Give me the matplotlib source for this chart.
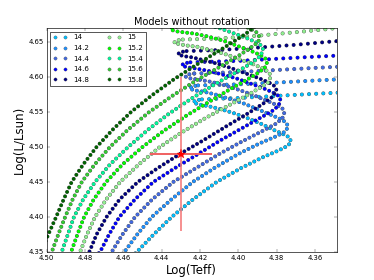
import matplotlib
matplotlib.use('Agg')
import matplotlib.pyplot as plt
from matplotlib.lines import Line2D

plt.style.use('classic')
plt.rcParams['figure.facecolor'] = 'white'
plt.rcParams['savefig.facecolor'] = 'white'
plt.rcParams['lines.scale_dashes'] = False

masses = ['14', '14.2', '14.4', '14.6', '14.8', '15', '15.2', '15.4', '15.6', '15.8']
colors = ['deepskyblue', 'dodgerblue', 'royalblue', 'blue', 'navy',
          'lightgreen', 'lime', 'mediumspringgreen', 'limegreen', 'darkgreen']

# main sequence + hook (dense models), then the gap crossing (sparse models)
teff_14 = [4.465, 4.453, 4.4442, 4.4348, 4.4237, 4.4113, 4.3985, 4.3875, 4.379, 4.374, 4.3725,
           4.3735, 4.377, 4.382, 4.388, 4.395, 4.402, 4.409, 4.416, 4.421, 4.4235, 4.4225, 4.419]
lum_14 = [4.32, 4.35, 4.375, 4.40, 4.425, 4.45, 4.47, 4.485, 4.495, 4.502, 4.508,
          4.514, 4.519, 4.525, 4.533, 4.541, 4.548, 4.554, 4.5585, 4.561, 4.5635, 4.5665, 4.568]
gap_teff_14 = [4.419, 4.40, 4.38, 4.36, 4.345]
gap_lum_14 = [4.568, 4.570, 4.573, 4.576, 4.578]

teff_142 = [4.472, 4.4595, 4.4528, 4.4452, 4.435, 4.4238, 4.4125, 4.400, 4.389, 4.3805, 4.3755, 4.374,
            4.375, 4.378, 4.383, 4.390, 4.397, 4.405, 4.412, 4.418, 4.423, 4.4255, 4.4245, 4.421]
lum_142 = [4.32, 4.35, 4.375, 4.40, 4.425, 4.45, 4.47, 4.49, 4.505, 4.515, 4.522, 4.529,
           4.535, 4.540, 4.546, 4.554, 4.562, 4.569, 4.575, 4.579, 4.581, 4.5835, 4.5865, 4.588]
gap_teff_142 = [4.421, 4.40, 4.38, 4.36, 4.345]
gap_lum_142 = [4.588, 4.5895, 4.592, 4.595, 4.597]

teff_144 = [4.479, 4.4661, 4.4605, 4.4539, 4.445, 4.434, 4.422, 4.410, 4.398, 4.388, 4.3805, 4.377, 4.376,
            4.377, 4.380, 4.385, 4.392, 4.399, 4.407, 4.414, 4.420, 4.425, 4.4275, 4.4265, 4.423]
lum_144 = [4.32, 4.35, 4.375, 4.40, 4.425, 4.45, 4.47, 4.49, 4.508, 4.522, 4.533, 4.541, 4.549,
           4.555, 4.560, 4.566, 4.574, 4.581, 4.588, 4.593, 4.596, 4.598, 4.6005, 4.6035, 4.605]
gap_teff_144 = [4.423, 4.40, 4.38, 4.36, 4.345]
gap_lum_144 = [4.605, 4.607, 4.610, 4.613, 4.615]

teff_146 = [4.484, 4.4722, 4.4675, 4.4621, 4.454, 4.4444, 4.433, 4.421, 4.409, 4.398, 4.389, 4.3825, 4.379, 4.378,
            4.379, 4.382, 4.387, 4.394, 4.401, 4.409, 4.416, 4.422, 4.427, 4.4295, 4.4285, 4.425]
lum_146 = [4.32, 4.35, 4.375, 4.40, 4.425, 4.45, 4.47, 4.49, 4.51, 4.527, 4.541, 4.551, 4.559, 4.567,
           4.573, 4.578, 4.584, 4.591, 4.598, 4.604, 4.609, 4.612, 4.614, 4.6165, 4.6195, 4.621]
gap_teff_146 = [4.425, 4.40, 4.38, 4.36, 4.345]
gap_lum_146 = [4.621, 4.623, 4.626, 4.629, 4.631]

teff_148 = [4.488, 4.4778, 4.474, 4.4688, 4.462, 4.4525, 4.442, 4.4305, 4.418, 4.406, 4.395, 4.387, 4.382, 4.380,
            4.381, 4.384, 4.389, 4.396, 4.403, 4.411, 4.418, 4.424, 4.429, 4.4315, 4.4305, 4.427]
lum_148 = [4.32, 4.35, 4.375, 4.40, 4.425, 4.45, 4.47, 4.49, 4.51, 4.53, 4.548, 4.562, 4.572, 4.581,
           4.587, 4.592, 4.598, 4.605, 4.612, 4.619, 4.624, 4.628, 4.630, 4.6325, 4.6355, 4.637]
gap_teff_148 = [4.427, 4.41, 4.39, 4.37, 4.35, 4.345]
gap_lum_148 = [4.637, 4.6385, 4.642, 4.646, 4.651, 4.652]

teff_150 = [4.492, 4.4826, 4.479, 4.4748, 4.469, 4.4617, 4.452, 4.441, 4.430, 4.418, 4.406, 4.396, 4.389, 4.3845, 4.383,
            4.384, 4.387, 4.392, 4.399, 4.406, 4.414, 4.421, 4.427, 4.431, 4.4335, 4.4325, 4.429]
lum_150 = [4.32, 4.35, 4.375, 4.40, 4.425, 4.45, 4.475, 4.50, 4.52, 4.54, 4.558, 4.573, 4.584, 4.592, 4.601,
           4.607, 4.612, 4.618, 4.625, 4.632, 4.638, 4.643, 4.645, 4.647, 4.649, 4.652, 4.6535]
gap_teff_150 = [4.429, 4.41, 4.39, 4.37, 4.355, 4.345]
gap_lum_150 = [4.6535, 4.655, 4.659, 4.664, 4.668, 4.671]

teff_152 = [4.496, 4.4873, 4.484, 4.4805, 4.4755, 4.469, 4.4605, 4.450, 4.439, 4.427, 4.415, 4.404, 4.395, 4.389, 4.386, 4.385,
            4.386, 4.389, 4.394, 4.401, 4.408, 4.416, 4.423, 4.429, 4.433, 4.4355, 4.4345, 4.431]
lum_152 = [4.32, 4.35, 4.375, 4.40, 4.425, 4.45, 4.475, 4.50, 4.523, 4.545, 4.565, 4.583, 4.597, 4.607, 4.614, 4.621,
           4.627, 4.632, 4.638, 4.645, 4.652, 4.658, 4.662, 4.664, 4.6655, 4.668, 4.671, 4.6725]
gap_teff_152 = [4.431, 4.41, 4.39]
gap_lum_152 = [4.6725, 4.674, 4.678]

teff_154 = [4.501, 4.4922, 4.489, 4.4858, 4.481, 4.4748, 4.467, 4.4575, 4.447, 4.436, 4.424, 4.412, 4.401, 4.393, 4.3885, 4.387,
            4.388, 4.391, 4.396, 4.403, 4.410, 4.418]
lum_154 = [4.32, 4.35, 4.375, 4.40, 4.425, 4.45, 4.475, 4.50, 4.525, 4.548, 4.57, 4.59, 4.607, 4.62, 4.63, 4.639,
           4.645, 4.65, 4.656, 4.663, 4.670, 4.676]

teff_156 = [4.506, 4.4974, 4.494, 4.4904, 4.4865, 4.4817, 4.475, 4.467, 4.4575, 4.4465, 4.4345, 4.422, 4.41, 4.400, 4.393, 4.3895, 4.389,
            4.390, 4.393, 4.398, 4.405]
lum_156 = [4.32, 4.35, 4.375, 4.40, 4.425, 4.45, 4.475, 4.50, 4.525, 4.55, 4.573, 4.595, 4.614, 4.630, 4.643, 4.65, 4.657,
           4.663, 4.668, 4.674, 4.681]

teff_158 = [4.512, 4.503, 4.4992, 4.4951, 4.4912, 4.487, 4.481, 4.474, 4.4655, 4.456, 4.4455, 4.434, 4.421, 4.408, 4.3965, 4.390, 4.388]
lum_158 = [4.32, 4.35, 4.375, 4.40, 4.425, 4.45, 4.475, 4.50, 4.525, 4.55, 4.573, 4.596, 4.619, 4.641, 4.661, 4.675, 4.69]

dense = [(teff_14, lum_14), (teff_142, lum_142), (teff_144, lum_144), (teff_146, lum_146),
         (teff_148, lum_148), (teff_150, lum_150), (teff_152, lum_152), (teff_154, lum_154),
         (teff_156, lum_156), (teff_158, lum_158)]
sparse = [(gap_teff_14, gap_lum_14), (gap_teff_142, gap_lum_142), (gap_teff_144, gap_lum_144),
          (gap_teff_146, gap_lum_146), (gap_teff_148, gap_lum_148), (gap_teff_150, gap_lum_150),
          (gap_teff_152, gap_lum_152), ([], []), ([], []), ([], [])]

# observed star with error bars
star_teff, star_lum = 4.43, 4.49
star_teff_err, star_lum_err = 0.016, 0.11

xticks = [4.50, 4.48, 4.46, 4.44, 4.42, 4.40, 4.38, 4.36]
yticks = [4.35, 4.40, 4.45, 4.50, 4.55, 4.60, 4.65]


def dotted(x, y, color, step):
    pattern = (0, (0.01, step))
    plt.plot(x, y, color='0.3', lw=6.2, ls=pattern, dash_capstyle='round')
    plt.plot(x, y, color=color, lw=5.2, ls=pattern, dash_capstyle='round')


fig = plt.figure(figsize=(8, 280 / 46.75), dpi=46.75)
ax = fig.add_subplot(111)

for (tx, ly), (gx, gy), c in zip(dense, sparse, colors):
    dotted(tx, ly, c, 7.5)
    if gx:
        dotted(gx, gy, c, 11.0)

# error bars: horizontal and vertical segments through the star
ax.hlines(star_lum, star_teff - star_teff_err, star_teff + star_teff_err,
          colors='#f06060', linewidth=3.0, linestyles='solid', zorder=5)
ax.vlines(star_teff, star_lum - star_lum_err, star_lum + star_lum_err,
          colors='#f47a7a', linewidth=2.5, linestyles='solid', zorder=5)
ax.plot([star_teff], [star_lum], ls='', marker='*', color='red', mec='red', ms=14, zorder=6)

plt.xlim(4.50, 4.3487)
plt.ylim(4.35, 4.67)
plt.xticks(xticks, ['%.2f' % t for t in xticks], fontsize=10.5)
plt.yticks(yticks, ['%.2f' % t for t in yticks], fontsize=10.5)
plt.xlabel('Log(Teff)', fontsize=18)
plt.ylabel('Log(L/Lsun)', fontsize=18)
plt.title('Models without rotation', fontsize=15)

handles = [Line2D([], [], ls='', marker='o', ms=5, mfc=c, mec='0.3', mew=0.5) for c in colors]
plt.legend(handles, masses, loc='upper left', ncol=2, numpoints=2, fontsize=11,
           labelspacing=0.65, columnspacing=2.5)

plt.savefig('out.png', dpi=46.75)
